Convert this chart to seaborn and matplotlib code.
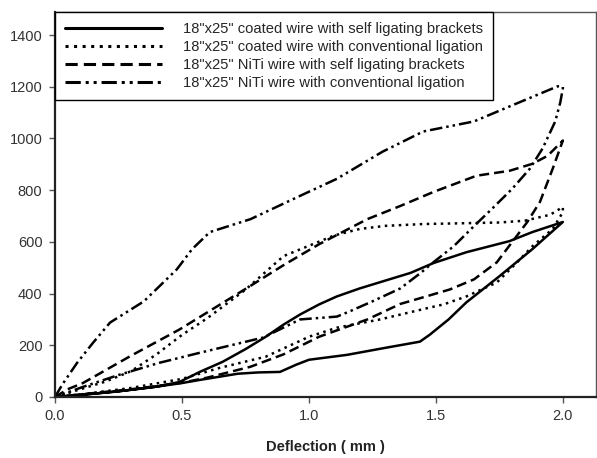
import numpy as np
import pandas as pd
import seaborn as sns
import matplotlib.pyplot as plt

# Названия серий
labels = [
    '18"x25" coated wire with self ligating brackets',
    '18"x25" coated wire with conventional ligation',
    '18"x25" NiTi wire with self ligating brackets',
    '18"x25" NiTi wire with conventional ligation',
]

# Серия 1: coated wire, self ligating (нагрузка / разгрузка)
s1_load_x = [0, 0.1, 0.25, 0.4, 0.49, 0.57, 0.66, 0.75, 0.83, 0.9, 0.965, 1.04, 1.11, 1.2, 1.3, 1.4, 1.49, 1.62, 1.79, 1.88, 2.0]
s1_load_y = [0, 8, 22, 40, 58, 97, 136, 185, 233, 280, 319, 358, 389, 420, 450, 480, 518, 560, 603, 638, 677]
s1_unload_x = [2.0, 1.88, 1.75, 1.62, 1.55, 1.476, 1.437, 1.3, 1.15, 1.0, 0.95, 0.886, 0.8, 0.72, 0.57, 0.5, 0.4, 0.25, 0.1, 0]
s1_unload_y = [677, 572, 467, 366, 300, 241, 214, 190, 163, 144, 125, 97, 95, 90, 66, 54, 40, 22, 8, 0]

# Серия 2: coated wire, conventional ligation
s2_load_x = [0, 0.1, 0.2, 0.3, 0.4, 0.5, 0.6, 0.75, 0.9, 1.0, 1.1, 1.2, 1.3, 1.45, 1.6, 1.75, 1.85, 1.95, 2.0]
s2_load_y = [0, 30, 60, 100, 165, 240, 305, 415, 545, 585, 625, 650, 662, 669, 672, 675, 682, 705, 735]
s2_unload_x = [2.0, 1.96, 1.88, 1.82, 1.74, 1.62, 1.53, 1.476, 1.28, 1.11, 1.0, 0.83, 0.65, 0.5, 0.3, 0.1, 0]
s2_unload_y = [715, 650, 583, 521, 443, 389, 358, 346, 300, 268, 233, 156, 113, 70, 35, 10, 0]

# Серия 3: NiTi wire, self ligating
s3_load_x = [0, 0.05, 0.11, 0.3, 0.49, 0.77, 0.9, 1.04, 1.23, 1.36, 1.49, 1.66, 1.79, 1.88, 1.94, 2.0]
s3_load_y = [0, 30, 54, 160, 261, 430, 510, 591, 688, 739, 793, 856, 875, 902, 933, 992]
s3_unload_x = [2.0, 1.96, 1.91, 1.86, 1.80, 1.74, 1.65, 1.555, 1.42, 1.36, 1.23, 1.04, 0.9, 0.77, 0.6, 0.5, 0.3, 0.1, 0]
s3_unload_y = [992, 883, 755, 677, 599, 521, 455, 416, 377, 360, 300, 233, 165, 117, 75, 55, 30, 10, 0]

# Серия 4: NiTi wire, conventional ligation
s4_load_x = [0, 0.03, 0.087, 0.15, 0.217, 0.35, 0.48, 0.54, 0.61, 0.77, 0.965, 1.11, 1.29, 1.45, 1.65, 1.80, 1.98, 2.0]
s4_load_y = [0, 50, 132, 210, 288, 370, 494, 572, 638, 688, 778, 844, 949, 1027, 1066, 1128, 1202, 1200]
s4_unload_x = [2.0, 1.99, 1.97, 1.92, 1.87, 1.80, 1.72, 1.65, 1.57, 1.49, 1.44, 1.36, 1.25, 1.16, 1.11, 0.965, 0.82, 0.57, 0.41, 0.25, 0.11, 0]
s4_unload_y = [1194, 1140, 1066, 961, 883, 805, 727, 661, 583, 521, 480, 420, 370, 331, 311, 300, 230, 171, 132, 85, 39, 0]

series = [
    (s1_load_x + s1_unload_x, s1_load_y + s1_unload_y),
    (s2_load_x + s2_unload_x, s2_load_y + s2_unload_y),
    (s3_load_x + s3_unload_x, s3_load_y + s3_unload_y),
    (s4_load_x + s4_unload_x, s4_load_y + s4_unload_y),
]

frames = []
for lab, (xs, ys) in zip(labels, series):
    frames.append(pd.DataFrame({"x": xs, "y": ys, "series": lab}))
df = pd.concat(frames, ignore_index=True)

sns.set_style("ticks")
plt.rcParams['font.family'] = ['Liberation Sans', 'DejaVu Sans']

dash_styles = {
    labels[0]: "",
    labels[1]: (1, 1.8),
    labels[2]: (4, 2),
    labels[3]: (5, 1.6, 1, 1.6, 1, 1.6),
}

fig = plt.figure(figsize=(5.97, 4.58), dpi=100)
ax = fig.add_axes([0.0921, 0.1332, 0.906, 0.841])

sns.lineplot(data=df, x="x", y="y", style="series", dashes=dash_styles,
             color="black", sort=False, estimator=None, linewidth=1.8, ax=ax)

ax.set_xlim(0, 2.13)
ax.set_ylim(0, 1490)
ax.set_xticks([0, 0.5, 1.0, 1.5, 2.0])
ax.set_xticklabels(["0.0", "0.5", "1.0", "1.5", "2.0"])
ax.set_yticks([0, 200, 400, 600, 800, 1000, 1200, 1400])
ax.tick_params(axis="both", labelsize=10.5, labelcolor="#333333", length=4, width=1,
               color="#555555", pad=5)
ax.set_xlabel("Deflection ( mm )", fontsize=10.5, fontweight="bold", color="#222222", labelpad=12)
ax.set_ylabel("")

for side in ["left", "bottom"]:
    ax.spines[side].set_linewidth(1.6)
    ax.spines[side].set_color("#222222")
for side in ["top", "right"]:
    ax.spines[side].set_visible(True)
    ax.spines[side].set_linewidth(1.0)
    ax.spines[side].set_color("#555555")

leg = ax.legend(loc="upper left", borderaxespad=0, fontsize=10.6, handlelength=6.6,
                handletextpad=1.4, labelspacing=0.27, borderpad=0.7, fancybox=False,
                framealpha=1, edgecolor="black", title=None)
leg.get_frame().set_linewidth(1.0)
for line in leg.get_lines():
    line.set_linewidth(2.2)

plt.savefig("out.png", dpi=100)
